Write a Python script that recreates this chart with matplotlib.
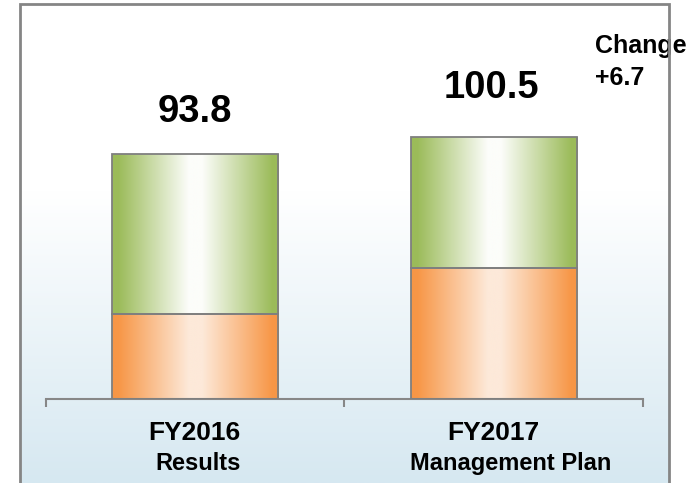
import numpy as np
import matplotlib
matplotlib.use("Agg")
import matplotlib.pyplot as plt

# data
categories = ["FY2016", "FY2017"]
subtitles = ["Results", "Management Plan"]
lower_part = [32.6, 50.2]      # orange segment
upper_part = [61.2, 50.3]      # green segment
totals = [93.8, 100.5]

plt.rcParams['font.family'] = ['Liberation Sans', 'DejaVu Sans']

W, H = 700, 483
fig = plt.figure(figsize=(W / 100, H / 100), dpi=100)

# background panel with white -> light blue gradient and a gray frame
bg = fig.add_axes([0, 0, 1, 1])
bg.axis('off')
rows = np.linspace(0, H, 300)
t = np.clip((rows - 190) / (H - 190), 0, 1)[:, None]
top_c = np.array([1.0, 1.0, 1.0])
bot_c = np.array([214, 232, 241]) / 255
grad = (top_c * (1 - t) + bot_c * t)[:, None, :]
bg.imshow(grad, extent=(20, 669, H, 3.5), aspect='auto', zorder=0)
bg.plot([20, 20, 669, 669], [H + 5, 3.5, 3.5, H + 5], color='#858585', lw=2, zorder=2,
        solid_joinstyle='miter')
bg.set_xlim(0, W)
bg.set_ylim(H, 0)

# change note (frame line passes over it, as in the original)
bg.text(595, 53, "Change", ha='left', va='baseline', fontsize=18,
        fontweight='bold', zorder=1)
bg.text(595, 85, f"+{totals[1] - totals[0]:.1f}", ha='left', va='baseline',
        fontsize=18, fontweight='bold', zorder=1)

# main axes
px_per_unit = 2.61
ax = fig.add_axes([45.5 / W, 1 - 399 / H, (643 - 45.5) / W, 395 / H])
ax.patch.set_visible(False)

x = np.arange(len(categories))
width = 0.556


def gradient_colors(edge, centre, n=200):
    u = np.linspace(0, 1, n)
    tt = np.abs(2 * u - 1)
    w = np.clip((tt - 0.08) / 0.85, 0, 1)[:, None]
    edge = np.array(matplotlib.colors.to_rgb(edge))
    centre = np.array(matplotlib.colors.to_rgb(centre))
    return (centre * (1 - w) + edge * w)[None, :, :]


orange = gradient_colors('#f79646', '#fde9d9')
green = gradient_colors('#9bbb59', '#fcfdfa')

b1 = ax.bar(x, lower_part, width, facecolor='none', edgecolor='#7f7f7f', lw=1.3, zorder=3)
b2 = ax.bar(x, upper_part, width, bottom=lower_part, facecolor='none',
            edgecolor='#7f7f7f', lw=1.3, zorder=3)

for bars, img in [(b1, orange), (b2, green)]:
    for p in bars:
        x0, y0 = p.get_x(), p.get_y()
        im = ax.imshow(img, extent=(x0, x0 + p.get_width(), y0, y0 + p.get_height()),
                       aspect='auto', zorder=2, interpolation='bilinear')
        im.set_clip_path(p)

ax.set_xlim(-0.5, 1.5)
ax.set_ylim(0, 395 / px_per_unit)

# axis styling: only the baseline with outward ticks between categories
for s in ['left', 'right', 'top']:
    ax.spines[s].set_visible(False)
ax.spines['bottom'].set_color('#878787')
ax.spines['bottom'].set_linewidth(1.5)
ax.set_yticks([])
ax.set_xticks(x)
ax.set_xticklabels([])
ax.tick_params(axis='x', which='major', length=0)
ax.set_xticks([-0.5, 0.5, 1.5], minor=True)
ax.tick_params(axis='x', which='minor', length=6, width=1.5, color='#878787', direction='out')

# category labels
sub_shift = [2, 12]
for i in range(len(categories)):
    ax.annotate(categories[i], (x[i], 0), xytext=(0, -29.5), textcoords='offset points',
                ha='center', va='baseline', fontsize=19, fontweight='bold')
    ax.annotate(subtitles[i], (x[i], 0), xytext=(sub_shift[i], -51), textcoords='offset points',
                ha='center', va='baseline', fontsize=17, fontweight='bold')

# total labels
label_gap = [23, 28]
for i in range(len(totals)):
    ax.annotate(f"{totals[i]:.1f}", (x[i], totals[i]), xytext=(-1.5 * i, label_gap[i]),
                textcoords='offset points', ha='center', va='baseline',
                fontsize=27.5, fontweight='bold')

fig.savefig("out.png", dpi=100)
